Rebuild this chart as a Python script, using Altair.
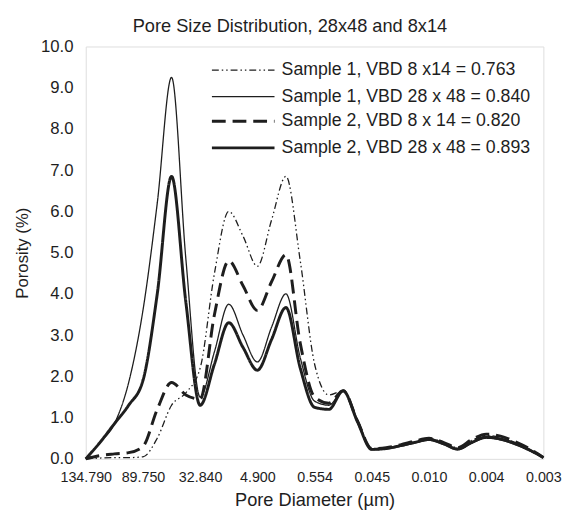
import altair as alt
import pandas as pd

# category index positions (one label every 4 points)
idx = list(range(33))
tick_idx = [0, 4, 8, 12, 16, 20, 24, 28, 32]
tick_labels = ["134.790", "89.750", "32.840", "4.900", "0.554", "0.045", "0.010", "0.004", "0.003"]

series_names = [
    "Sample 1, VBD 8 x14 = 0.763",
    "Sample 1, VBD 28 x 48 = 0.840",
    "Sample 2, VBD 8 x 14 = 0.820",
    "Sample 2, VBD 28 x 48 = 0.893",
]

s1_8x14 = [0, 0.02, 0.03, 0.03, 0.05, 0.5, 1.3, 1.6, 2.2, 4.5, 6.0, 5.4, 4.67, 5.8, 6.85, 4.8,
           2.3, 1.55, 1.65, 0.95, 0.25, 0.27, 0.33, 0.42, 0.5, 0.4, 0.27, 0.45, 0.57, 0.52, 0.4, 0.24, 0.03]
s1_28x48 = [0, 0.4, 0.85, 1.85, 3.6, 6.2, 9.25, 4.85, 1.5, 2.6, 3.75, 3.0, 2.35, 3.2, 4.0, 2.45,
            1.4, 1.3, 1.65, 0.9, 0.22, 0.24, 0.3, 0.38, 0.45, 0.35, 0.22, 0.38, 0.5, 0.46, 0.35, 0.2, 0.03]
s2_8x14 = [0, 0.08, 0.12, 0.15, 0.3, 1.2, 1.85, 1.55, 1.45, 3.5, 4.8, 4.2, 3.6, 4.3, 4.95, 2.8,
           1.5, 1.35, 1.65, 0.92, 0.25, 0.27, 0.34, 0.43, 0.5, 0.4, 0.27, 0.47, 0.6, 0.55, 0.42, 0.25, 0.03]
s2_28x48 = [0, 0.4, 0.85, 1.3, 1.9, 4.0, 6.85, 3.8, 1.3, 2.3, 3.3, 2.7, 2.15, 2.9, 3.67, 2.2,
            1.25, 1.2, 1.65, 0.9, 0.23, 0.25, 0.32, 0.4, 0.47, 0.37, 0.24, 0.4, 0.53, 0.48, 0.37, 0.22, 0.03]


def frame(names, series_list, field):
    rows = []
    for name, vals in zip(names, series_list):
        for i, v in zip(idx, vals):
            rows.append({"i": i, "porosity": v, field: name})
    return pd.DataFrame(rows)


df1 = frame(series_names[:2], [s1_8x14, s1_28x48], "sample1")
df2 = frame(series_names[2:], [s2_8x14, s2_28x48], "sample2")

label_map = "{" + ",".join(f"'{k}':'{v}'" for k, v in zip(tick_idx, tick_labels)) + "}"

FONT = "Liberation Sans"
INK = "#1e1e1e"


def legend(y, w):
    return alt.Legend(
        title=None, orient="none", legendX=151, legendY=y, padding=0,
        symbolType="M-5.3,0H5.3", symbolSize=144, labelFontSize=18, labelFont=FONT,
        labelColor=INK, symbolStrokeColor=INK, symbolFillColor="transparent",
        symbolStrokeWidth=w, rowPadding=9, labelOffset=30, labelLimit=400, symbolOpacity=1,
    )


x_enc = alt.X("i:Q", scale=alt.Scale(domain=[0, 32], nice=False),
              axis=alt.Axis(values=tick_idx, labelExpr=f"{label_map}[datum.value]",
                            title="Pore Diameter (µm)", grid=False, ticks=False, domain=False,
                            labelFontSize=14.5, labelFont=FONT, labelColor=INK, labelPadding=12,
                            titleFontSize=18.5, titleFont=FONT, titleFontWeight="normal",
                            titleColor=INK, titlePadding=7, labelFlush=False))
y_enc = alt.Y("porosity:Q", scale=alt.Scale(domain=[0, 10], nice=False),
              axis=alt.Axis(values=list(range(11)), format=".1f", title="Porosity (%)",
                            grid=False, ticks=False, domain=False,
                            labelFontSize=17, labelFont=FONT, labelColor=INK, labelPadding=13,
                            titleFontSize=17, titleFont=FONT, titleFontWeight="normal",
                            titleColor=INK, titlePadding=9))

thin = alt.Chart(df1).mark_line(interpolate="monotone", color=INK, strokeWidth=1.3).encode(
    x=x_enc, y=y_enc,
    strokeDash=alt.StrokeDash("sample1:N", sort=series_names[:2],
                              scale=alt.Scale(domain=series_names[:2],
                                              range=[[7, 3, 1.5, 3, 1.5, 3], [1, 0]]),
                              legend=legend(15, 1.3)),
)
thick = alt.Chart(df2).mark_line(interpolate="monotone", color=INK, strokeWidth=3).encode(
    x=x_enc, y=y_enc,
    strokeDash=alt.StrokeDash("sample2:N", sort=series_names[2:],
                              scale=alt.Scale(domain=series_names[2:], range=[[14, 7], [1, 0]]),
                              legend=legend(67, 3)),
)

chart = alt.layer(thin, thick).resolve_scale(strokeDash="independent").resolve_legend(
    strokeDash="independent"
).properties(
    width=465, height=419,
    title=alt.Title("Pore Size Distribution, 28x48 and 8x14", font=FONT, fontSize=18.5,
                    fontWeight="normal", color=INK, anchor="middle", dx=-25, offset=2),
).configure_view(stroke="#777", strokeWidth=1.5).configure(background="white")

chart.save("out.html", embed_options={"renderer": "svg", "actions": False})
